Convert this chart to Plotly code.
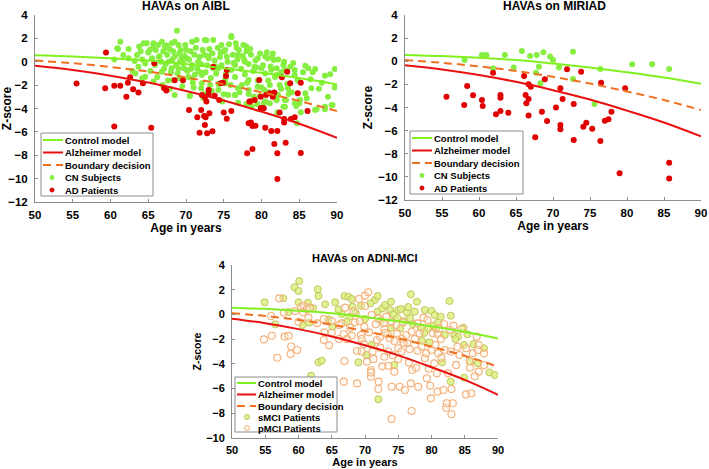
import plotly.graph_objects as go

# model curves (read at 5-year steps)
model_age = [50, 55, 60, 65, 70, 75, 80, 85, 90]
control_z = [0.55, 0.45, 0.3, 0.1, -0.2, -0.55, -0.95, -1.4, -1.95]
alzheimer_z = [-0.35, -0.71, -1.19, -1.78, -2.5, -3.31, -4.27, -5.3, -6.5]
boundary_z = [0.1, -0.13, -0.45, -0.84, -1.35, -1.93, -2.61, -3.35, -4.22]

# AIBL
aibl_cn_age = [
    68.8, 61.3, 61.0, 62.4, 61.7, 60.5, 63.5, 64.4, 64.8, 65.2, 65.7, 66.3, 66.8, 67.2, 68.1, 68.5,
    69.0, 69.9, 70.8, 71.4, 72.5, 73.6, 68.5, 69.4, 67.7, 65.9, 64.6, 66.8, 68.1, 69.7, 70.8, 71.6,
    73.0, 73.6, 72.1, 70.8, 69.2, 68.3, 68.5, 70.5, 72.1, 73.2, 72.0, 64.6, 63.2, 62.4, 63.7, 60.9,
    64.2, 70.1, 72.7, 76.0,
    76.0, 76.6, 77.6, 78.5, 75.2, 80.7, 80.5, 79.5, 81.6, 82.0, 82.9, 83.8, 84.4, 85.8, 86.2, 87.1,
    88.4, 89.1, 89.7, 84.4, 82.4, 82.2, 83.5, 83.1, 84.6, 85.1, 86.0, 86.6, 87.1, 88.4, 89.3, 85.2,
    82.9, 80.5, 78.7, 76.5, 77.4, 78.3, 79.5, 81.1, 80.4, 78.3, 76.9, 75.6, 74.3, 75.2, 82.0, 83.1,
    74.3, 76.5, 77.8, 79.1, 80.0, 81.3, 75.4, 76.9, 74.7, 78.0,
    70.5, 72.4, 75.0, 76.5, 78.3, 79.8, 78.0, 79.4, 80.3, 81.1, 82.0, 83.1, 83.25, 84.4, 84.7, 87.3,
    88.4, 89.4, 82.1, 83.6, 85.0,
    65.0, 65.5, 66.0, 66.5, 67.0, 67.3, 67.5, 67.8, 68.0, 68.3, 68.7, 69.1, 69.3, 69.6, 69.8, 70.0,
    70.2, 70.4, 70.6, 70.9, 71.1, 71.3, 71.5, 71.8, 72.0, 72.2, 72.4, 72.6, 72.8, 73.1, 73.3, 73.5,
    73.8, 74.0, 74.2, 74.5, 74.7, 75.0, 75.2, 75.5, 75.7, 76.0, 76.2, 76.5, 76.8, 77.0, 77.3, 77.5,
    77.8, 78.0, 78.3, 78.6, 78.9, 79.2, 79.5, 79.8, 80.2, 80.5, 80.8, 81.2, 81.5, 81.8, 82.2, 82.6,
    83.0, 64.0, 63.8, 64.2, 65.3, 66.2, 66.7, 67.6, 68.9, 69.5, 70.3, 71.0, 71.9, 73.4, 74.3, 75.9,
    76.3, 77.1, 78.1, 79.0, 80.0, 81.0, 82.0, 83.4, 84.0, 84.8, 85.5, 86.5, 87.6, 88.8, 62.9, 63.3,
    65.7, 66.9, 67.9, 69.2, 70.7, 72.3, 74.8, 76.9, 78.8, 80.9, 82.6, 84.2, 85.8, 86.8, 88.0, 89.7,
    66.4, 67.1, 67.4, 68.2, 69.0, 70.1, 71.2, 72.9, 73.9, 74.6, 75.3, 76.7, 77.7, 79.3, 81.4, 65.6,
]
aibl_cn_z = [
    2.66, 1.72, 1.09, 1.09, 0.58, 0.2, 0.58, 1.58, 1.58, 1.0, 1.58, 1.43, 1.72, 1.29, 1.58, 1.72,
    1.43, 1.43, 1.72, 1.86, 1.86, 1.86, 0.44, 0.3, 0.01, -0.28, -0.14, -0.85, -0.56, -0.56, -0.28, 0.01,
    0.3, -0.56, -1.13, -1.42, -1.42, -1.56, -2.84, -2.93, -1.85, -1.99, -2.27, -1.28, 0.07, 0.3, -0.42, 1.15,
    -1.42, -0.7, 1.85, 2.1,
    2.2, 1.58, 1.43, 1.09, 1.01, 0.81, 0.44, 0.3, 0.15, -0.56, -0.28, -0.42, -0.71, -0.34, -0.56, -0.62,
    -1.19, -1.07, -0.62, -1.13, -1.99, -2.84, -2.27, -3.27, -3.78, -3.27, -3.13, -2.27, -4.13, -4.07, -3.7, -4.33,
    -3.84, -3.4, -3.84, -2.84, -1.99, -1.56, -2.13, -1.99, -2.42, -2.42, -2.27, -2.84, -2.42, -1.85, -1.13, -0.71,
    -0.56, -0.28, 0.01, -0.42, -0.56, -0.71, 0.44, 0.58, 1.43, 1.3,
    -2.9, -2.76, -2.79, -2.84, -2.76, -2.93, -3.64, -3.61, -3.56, -3.56, -3.21, -3.84, -3.27, -3.56, -5.27, -4.07,
    -3.84, -3.7, -4.35, -2.76, -3.56,
    0.8, 0.3, 1.0, 0.5, 0.9, -0.2, 0.6, 1.1, -0.9, 0.9, -0.3, 0.7, 1.0, -0.1, 0.5, 1.0,
    -0.8, 0.2, 0.9, -1.8, 0.6, 1.2, -0.6, 0.4, -0.2, 1.0, 0.6, -0.9, -0.3, 1.1, -1.4, 0.7,
    0.1, -1.0, 1.2, 0.4, -0.3, 0.9, -1.5, 0.0, 1.5, -0.7, 0.6, -1.3, 0.2, 1.0, -0.6, 0.5,
    -1.1, 0.9, -0.2, 0.6, -0.8, 0.1, -1.6, 0.7, -0.3, -1.0, 0.3, -0.4, 0.7, -1.3, 0.2, -0.9,
    0.0, 0.9, 1.3, 0.2, -0.8, -1.3, 0.0, -1.6, -1.0, -2.1, -1.3, -2.2, -0.9, -2.5, -1.9, -2.0,
    -0.1, -2.6, -1.8, -3.0, -2.2, -2.6, -3.3, -1.9, -2.6, -1.6, -0.9, -1.5, -2.3, -3.0, -0.8, -1.0,
    -1.7, -2.0, -2.3, 0.0, -0.6, -3.1, -3.4, -3.5, -3.3, -1.6, -2.3, -0.1, -2.7, -0.9, -1.8, -2.2,
    0.4, -0.6, 1.4, 0.2, -0.6, 0.3, -1.1, 0.5, -0.4, 0.8, -1.0, 1.2, 0.2, -0.5, 0.4, 1.2,
]
aibl_ad_age = [
    59.4, 55.5, 59.3, 60.5, 61.3, 62.1, 62.6, 62.3, 63.0, 63.7, 64.3, 60.5, 65.4, 65.8, 67.1, 67.4,
    68.5, 69.6, 70.4, 71.5, 72.0, 72.1, 72.5, 72.7, 73.0, 73.0, 72.5, 72.4, 72.6, 73.1, 71.8, 72.8,
    73.5, 73.8, 73.6, 74.4, 75.0, 75.4, 75.3, 75.4, 74.6, 76.0, 78.1, 78.3, 78.6, 78.8, 78.4, 78.8,
    79.1, 79.2, 79.7, 79.9, 79.9, 80.3, 80.6, 80.5, 81.1, 81.3, 81.5, 81.7, 81.7, 82.1, 82.1, 82.1,
    82.4, 82.7, 83.0, 83.0, 83.2, 83.4, 83.8, 83.9, 84.4, 84.8, 85.2, 85.2, 86.1, 74.9, 78.5, 80.0,
]
aibl_ad_z = [
    0.8, -1.87, -2.27, -2.05, -2.05, -2.99, -1.33, -1.79, -2.36, -2.64, -1.85, -5.55, -5.64, -0.13, -2.27, -2.47,
    -1.59, -1.59, -4.13, -4.75, -4.13, -2.84, -3.04, -3.41, -2.42, -2.79, -5.41, -4.64, -4.75, -4.41, -6.07, -6.12,
    -5.95, -2.9, -0.42, -3.27, -4.35, -4.87, -1.22, -0.7, -1.85, -4.21, -7.83, -5.27, -5.2, -5.5, -3.41, -7.46,
    -3.27, -5.47, -1.56, -2.99, -3.98, -3.98, -2.84, -5.64, -2.7, -5.92, -2.99, -2.64, -7.03, -7.83, -5.92, -10.03,
    -4.35, -1.33, -4.9, -5.2, -6.92, -0.85, -1.85, -4.9, -4.75, -2.7, -7.8, -1.79, -4.21, -1.79, -3.4, -3.95,
]

# MIRIAD
miriad_cn_age = [58.05, 60.4, 61.0, 61.9, 63.5, 64.7, 65.8, 66.9, 67.8, 68.7, 68.1, 67.7, 68.3, 69.6,
                 70.0, 70.8, 72.7, 72.7, 75.6, 76.4, 80.7, 83.4, 85.7]
miriad_cn_z = [0.11, 0.54, 0.54, -0.61, 0.54, -0.53, 0.89, 0.45, 0.54, 0.77, -0.47, -0.99, -1.91, 0.4,
               0.11, -0.55, 0.83, -1.53, -3.7, -0.67, -0.27, -0.27, -0.67]
miriad_ad_age = [
    55.6, 58.0, 58.4, 59.2, 60.4, 60.5, 61.9, 62.3, 62.9, 62.9, 62.9, 63.96, 64.5, 66.1, 66.3, 66.4,
    66.7, 66.7, 66.7, 67.0, 67.6, 68.5, 68.9, 69.2, 70.4, 71.0, 71.0, 71.0, 71.3, 71.9, 72.8, 72.8,
    73.8, 74.1, 74.5, 75.3, 76.4, 76.5, 77.0, 77.5, 77.9, 79.0, 79.75, 85.7, 85.7,
]
miriad_ad_z = [
    -3.06, -3.78, -2.14, -2.95, -3.35, -3.87, -0.99, -4.59, -2.92, -3.15, -4.3, -4.45, -6.38, -1.28, -2.92, -3.64,
    -3.26, -2.0, -4.7, -2.2, -6.58, -4.36, -1.56, -5.17, -3.99, -2.34, -5.51, -5.89, -3.26, -0.7, -3.7, -6.81,
    -0.9, -5.66, -5.31, -5.83, -6.9, -1.85, -5.14, -5.02, -4.36, -9.69, -2.34, -8.77, -10.13,
]

# ADNI-MCI
smci_age = [
    54.9, 56.5, 57.7, 59.4, 60.0, 60.1, 60.0, 60.6, 61.4, 61.6, 61.9, 62.9, 63.0, 63.0, 63.5, 64.0,
    65.5, 65.1, 66.5, 66.9, 67.5, 67.7, 68.0, 68.1, 69.0, 69.4, 70.0, 70.2, 71.0, 71.5, 71.9, 71.9,
    72.0, 72.6, 73.0, 73.8, 73.9, 73.9, 74.3, 74.4, 75.0, 75.3, 75.4, 75.9, 76.3, 76.8, 76.9, 77.2,
    77.5, 77.8, 78.4, 78.6, 79.0, 79.5, 79.7, 80.0, 80.3, 80.5, 81.0, 81.4, 81.6, 82.0, 82.7, 82.9,
    82.9, 83.4, 84.0, 84.8, 84.9, 84.9, 85.4, 85.9, 87.0, 87.9, 88.7, 89.5, 58.5, 62.2, 64.5, 66.0,
    67.2, 68.6, 70.8, 72.4, 74.9, 76.5, 78.9, 80.7, 83.6, 86.3,
]
smci_z = [
    0.98, -0.8, 1.3, 2.2, 1.9, 2.7, 0.98, -0.86, 0.95, -0.67, -4.96, 2.03, 1.49, -3.88, -3.74, 0.82,
    0.98, -0.99, 0.03, 1.49, 1.44, -0.18, 1.25, 0.63, -3.88, 0.71, -0.37, -3.28, -2.47, 1.17, 0.22, 1.49,
    -6.87, 0.49, 0.76, 0.36, -1.07, 1.03, 0.0, -4.09, 0.36, -1.13, 0.44, -0.53, 0.17, -0.32, 1.63, -0.8,
    0.22, 1.03, -1.07, -2.15, 0.36, -1.13, -2.26, 0.28, -0.91, -0.05, -0.64, -0.18, -3.88, -1.66, 1.08, -0.1,
    -5.44, -1.66, -1.8, -1.07, -2.47, -5.12, -1.61, -3.82, -3.96, -2.74, -4.69, -4.9, 0.2, 0.5, -0.4, 0.4,
    -0.6, 0.1, 0.9, -0.5, -0.3, 0.6, -1.5, -1.2, -2.0, -2.4,
]
pmci_age = [
    54.8, 55.9, 56.0, 56.8, 57.1, 57.8, 57.9, 58.5, 58.9, 58.8, 59.5, 59.8, 60.4, 60.0, 60.8, 61.2,
    61.7, 61.5, 60.7, 62.8, 63.9, 63.8, 63.8, 65.0, 65.0, 66.1, 66.1, 66.5, 66.8, 66.9, 66.8, 67.0,
    67.8, 68.0, 68.3, 68.5, 68.8, 68.8, 69.1, 69.2, 69.4, 69.5, 69.5, 70.0, 69.9, 70.0, 70.3, 70.5,
    70.6, 70.9, 70.9, 70.9, 71.0, 71.15, 71.6, 71.8, 72.0, 72.05, 72.0, 72.3, 72.3, 72.8, 72.9, 72.9,
    73.2, 73.4, 73.5, 73.5, 73.7, 74.0, 74.0, 74.4, 74.4, 74.0, 74.7, 74.8, 75.0, 75.0, 75.2, 75.5,
    75.6, 75.7, 76.0, 76.2, 76.4, 76.7, 77.0, 76.9, 77.0, 77.1, 77.5, 77.7, 77.9, 77.9, 78.0, 78.2,
    78.8, 79.0, 79.2, 79.3, 79.4, 79.8, 79.9, 80.0, 80.2, 80.4, 80.6, 80.8, 80.9, 80.9, 81.0, 81.2,
    81.4, 81.8, 81.9, 82.0, 82.2, 82.3, 82.5, 82.8, 82.9, 83.0, 83.2, 83.0, 83.3, 83.9, 84.2, 84.5,
    85.2, 85.2, 85.7, 85.8, 86.0, 86.2, 86.8, 87.0, 87.1, 87.1, 87.9, 87.9,
    64.6, 67.3, 69.8, 71.3, 72.6, 73.0, 74.2, 75.8, 76.6, 78.5, 79.6, 81.5, 83.7, 86.5,
]
pmci_z = [
    -2.02, -0.13, -1.72, -3.5, 1.3, 0.16, -1.8, -1.72, -2.6, -3.2, 0.27, -2.88, 0.6, -0.59, 0.7, 0.41,
    0.55, -0.26, 0.17, -0.72, -1.45, -0.37, -2.07, -1.48, -0.53, -1.99, -0.86, -0.72, -1.61, -3.77, -5.44, 0.55,
    -1.07, -1.72, 0.28, -0.64, -2.96, -5.58, 1.25, -0.53, -1.66, -1.99, -3.0, 0.68, -0.99, 1.52, -3.82, 1.79,
    -1.45, -4.5, -5.04, -4.69, -0.05, -3.0, -0.8, -2.07, -0.32, -5.44, -6.03, -1.8, -2.69, -0.72, -1.18, -3.42,
    -0.18, -1.61, -3.0, -4.15, -1.93, -0.64, -5.85, -2.15, -4.63, -8.46, -0.86, -1.53, -2.74, -3.61, -5.85, -3.0,
    -1.99, -0.64, -6.12, -1.66, -2.34, -2.8, -7.82, -5.58, -1.4, -4.5, -1.99, -4.31, -2.94, -0.72, -5.85, -1.53,
    -0.26, -3.55, -3.15, -5.17, -0.45, -5.77, -6.79, -2.88, -1.53, -3.96, -2.47, -4.77, -1.61, -6.25, -3.15, -1.13,
    -1.99, -6.12, -0.8, -2.88, -7.55, -7.19, -4.77, -1.26, -3.0, -8.08, -7.19, -6.03, -0.91, -2.61, -3.28, -1.18,
    -6.47, -2.74, -3.77, -4.31, -6.38, -3.15, -1.8, -2.88, -4.63, -2.47, -3.15, -4.09,
    -2.5, -2.0, -2.4, -3.6, -4.2, -1.5, -3.3, -2.3, -3.9, -2.6, -4.4, -3.5, -4.1, -5.0,
]

W, H = 709, 469
GREEN_LINE = "#80f020"
RED_LINE = "#e81010"
ORANGE = "#f07020"
GREEN_DOT = "#86ee40"
RED_DOT = "#e00000"
AXIS_GREY = "#8c8c8c"
FONT = "Liberation Sans, Arial, sans-serif"
DASH = "8px,5px"

smci_marker = dict(color="rgba(218,240,130,0.85)", size=7, line=dict(color="#c4c45a", width=1))
pmci_marker = dict(color="rgba(255,240,220,0.3)", size=7, line=dict(color="#f2b07a", width=1.1))


def fx(px):
    return px / W


def fy(py):
    return 1 - py / H


fig = go.Figure()


def add_models(xa, ya):
    fig.add_trace(go.Scatter(x=model_age, y=control_z, mode="lines", name="Control model",
                             line=dict(color=GREEN_LINE, width=2, shape="spline"), xaxis=xa, yaxis=ya))
    fig.add_trace(go.Scatter(x=model_age, y=alzheimer_z, mode="lines", name="Alzheimer model",
                             line=dict(color=RED_LINE, width=2, shape="spline"), xaxis=xa, yaxis=ya))
    fig.add_trace(go.Scatter(x=model_age, y=boundary_z, mode="lines", name="Boundary decision",
                             line=dict(color=ORANGE, width=2, dash=DASH, shape="spline"), xaxis=xa, yaxis=ya))


fig.add_trace(go.Scatter(x=aibl_cn_age, y=aibl_cn_z, mode="markers", name="CN Subjects",
                         marker=dict(color=GREEN_DOT, size=6), xaxis="x", yaxis="y"))
fig.add_trace(go.Scatter(x=aibl_ad_age, y=aibl_ad_z, mode="markers", name="AD Patients",
                         marker=dict(color=RED_DOT, size=6), xaxis="x", yaxis="y"))
add_models("x", "y")

fig.add_trace(go.Scatter(x=miriad_cn_age, y=miriad_cn_z, mode="markers", name="CN Subjects",
                         marker=dict(color=GREEN_DOT, size=6), xaxis="x2", yaxis="y2"))
fig.add_trace(go.Scatter(x=miriad_ad_age, y=miriad_ad_z, mode="markers", name="AD Patients",
                         marker=dict(color=RED_DOT, size=6), xaxis="x2", yaxis="y2"))
add_models("x2", "y2")

fig.add_trace(go.Scatter(x=smci_age, y=smci_z, mode="markers", name="sMCI Patients",
                         marker=smci_marker, xaxis="x3", yaxis="y3"))
fig.add_trace(go.Scatter(x=pmci_age, y=pmci_z, mode="markers", name="pMCI Patients",
                         marker=pmci_marker, xaxis="x3", yaxis="y3"))
add_models("x3", "y3")


def xax(domain, anchor, fsize, tsize):
    return dict(domain=domain, anchor=anchor, range=[50, 90], tickvals=[50, 55, 60, 65, 70, 75, 80, 85, 90],
                showline=True, linecolor=AXIS_GREY, linewidth=1, ticks="inside", ticklen=3,
                tickcolor=AXIS_GREY, showgrid=False, zeroline=False, automargin=False,
                ticklabelstandoff=2,
                tickfont=dict(family=FONT, size=fsize, color="black", weight="bold"),
                title=dict(text="Age in years", standoff=3,
                           font=dict(family=FONT, size=tsize, color="black", weight="bold")))


def yax(domain, anchor, rng, fsize, tsize):
    return dict(domain=domain, anchor=anchor, range=rng, dtick=2, tick0=0,
                showline=True, linecolor=AXIS_GREY, linewidth=1, ticks="inside", ticklen=3,
                tickcolor=AXIS_GREY, showgrid=False, zeroline=False, automargin=False,
                ticklabelstandoff=4,
                tickfont=dict(family=FONT, size=fsize, color="black", weight="bold"),
                title=dict(text="Z-score", standoff=2,
                           font=dict(family=FONT, size=tsize, color="black", weight="bold")))


fig.update_layout(
    width=W, height=H, margin=dict(l=0, r=0, t=0, b=0), template="none",
    paper_bgcolor="white", plot_bgcolor="white", showlegend=False,
    xaxis=xax([fx(35), fx(337)], "y", 11.5, 12),
    yaxis=yax([fy(202), fy(15)], "x", [-12, 4], 11.5, 12),
    xaxis2=xax([fx(405), fx(701)], "y2", 11.5, 12),
    yaxis2=yax([fy(200), fy(15)], "x2", [-12, 4], 11.5, 12),
    xaxis3=xax([fx(232), fx(498)], "y3", 11, 11),
    yaxis3=yax([fy(438), fy(265)], "x3", [-10, 4], 11, 10.5),
)

for text, cx, cy, size in [("HAVAs on AIBL", 186, 6, 12), ("HAVAs on MIRIAD", 554, 6, 12),
                           ("HAVAs on ADNI-MCI", 365, 257.5, 11)]:
    fig.add_annotation(text=text, x=fx(cx), y=fy(cy), xref="paper", yref="paper", showarrow=False,
                       xanchor="center", yanchor="middle",
                       font=dict(family=FONT, size=size, color="black", weight="bold"))


# compact MATLAB-style legend boxes
def draw_legend(box, line_x, dot_x, text_x, rows, entries):
    x0, y0, x1, y1 = box
    fig.add_shape(type="rect", xref="paper", yref="paper", x0=fx(x0), x1=fx(x1), y0=fy(y1), y1=fy(y0),
                  line=dict(color=AXIS_GREY, width=1), fillcolor="white", layer="above")
    for (kind, style, label), ry in zip(entries, rows):
        if kind == "line":
            fig.add_shape(type="line", xref="paper", yref="paper", x0=fx(line_x[0]), x1=fx(line_x[1]),
                          y0=fy(ry), y1=fy(ry), line=style, layer="above")
        else:
            r, fill, edge = style
            fig.add_shape(type="circle", xref="paper", yref="paper", x0=fx(dot_x - r), x1=fx(dot_x + r),
                          y0=fy(ry + r), y1=fy(ry - r), fillcolor=fill,
                          line=dict(color=edge, width=1), layer="above")
        fig.add_annotation(text=label, x=fx(text_x), y=fy(ry), xref="paper", yref="paper",
                           xanchor="left", yanchor="middle", showarrow=False,
                           font=dict(family=FONT, size=9.5, color="black", weight="bold"))


model_entries = [
    ("line", dict(color=GREEN_LINE, width=2), "Control model"),
    ("line", dict(color=RED_LINE, width=2), "Alzheimer model"),
    ("line", dict(color=ORANGE, width=2, dash=DASH), "Boundary decision"),
]
ad_entries = model_entries + [
    ("dot", (2, GREEN_DOT, GREEN_DOT), "CN Subjects"),
    ("dot", (2, RED_DOT, RED_DOT), "AD Patients"),
]
mci_entries = model_entries + [
    ("dot", (2.5, "rgba(218,240,130,0.85)", "#c4c45a"), "sMCI Patients"),
    ("dot", (2.5, "rgba(255,240,220,0.3)", "#f2b07a"), "pMCI Patients"),
]

draw_legend((41, 133, 153, 196), (43, 63), 52, 63, [140, 152.5, 165, 177.5, 190], ad_entries)
draw_legend((410, 131, 523, 194), (412, 432), 422, 432, [138, 150.5, 163, 175.5, 188], ad_entries)
draw_legend((235, 377, 337, 432), (237, 256), 247, 256, [383, 394.5, 406, 417, 428], mci_entries)

# the page body has a default 8px margin; drop it so the 709x469 figure fills the window
fig.write_html("out.html", config={"displayModeBar": False},
               post_script="document.body.style.margin='0';")
